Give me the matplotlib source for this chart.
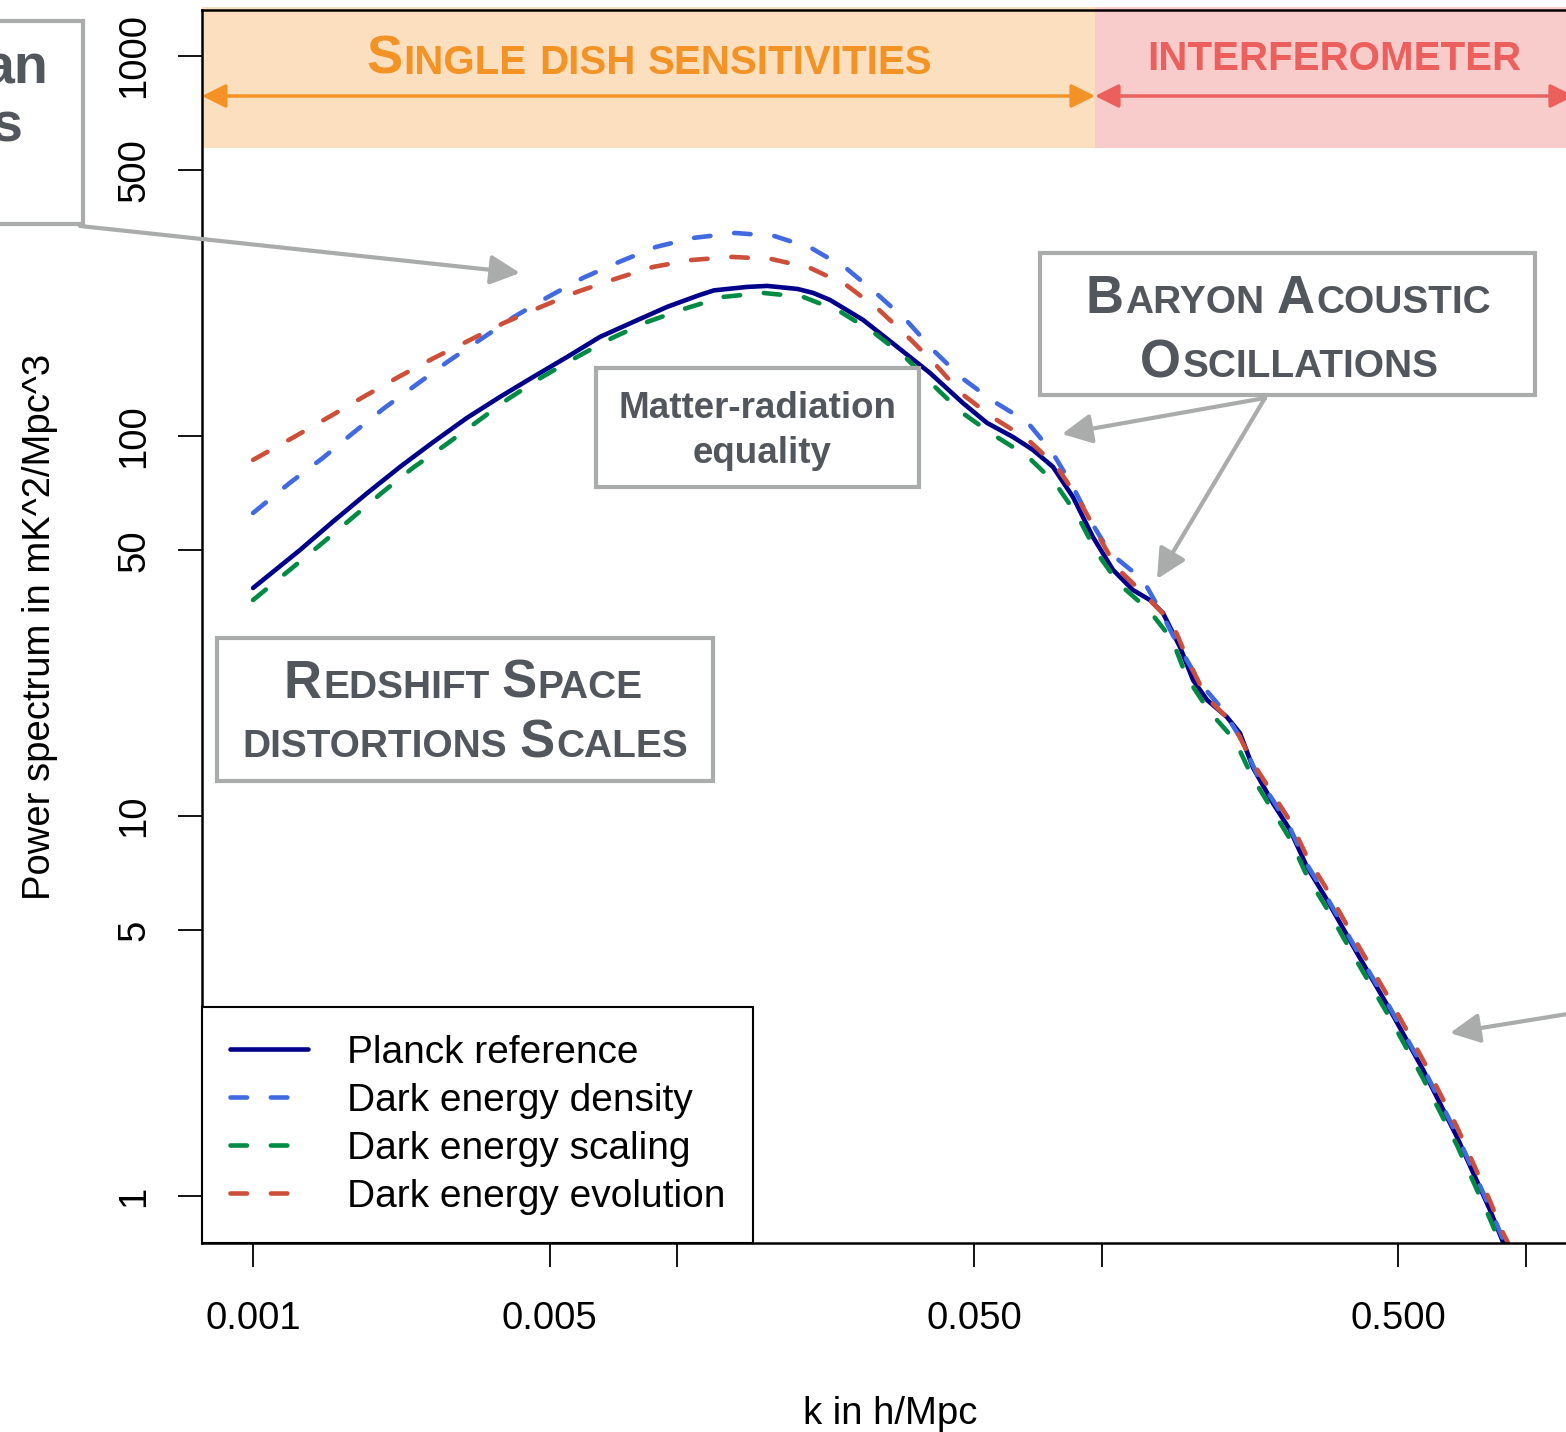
import matplotlib
matplotlib.use("Agg")
import matplotlib.pyplot as plt
from matplotlib.patches import Rectangle, FancyArrowPatch
from matplotlib.ticker import NullLocator
from matplotlib.transforms import IdentityTransform

plt.rcParams['font.family'] = ['Liberation Sans', 'DejaVu Sans']

W, H = 1566, 1432

# power spectra (k in h/Mpc, P in mK^2/Mpc^3)
k_planck = [0.001, 0.00129, 0.00154, 0.00186, 0.00222, 0.00266, 0.00319, 0.00382, 0.00457,
            0.0055, 0.00657, 0.00787, 0.00946, 0.0113, 0.0122, 0.0146, 0.0163, 0.0192, 0.0209,
            0.0229, 0.0274, 0.033, 0.0394, 0.0471, 0.0537, 0.0618, 0.0689, 0.0768, 0.0856,
            0.0954, 0.1064, 0.1186, 0.13, 0.1395, 0.1531, 0.1642, 0.1772, 0.1975, 0.212, 0.2274,
            0.2535, 0.278, 0.3049, 0.3399, 0.3999, 0.4783, 0.5721, 0.688, 0.823, 0.883, 0.95]
pk_planck = [39.8, 50.1, 59.4, 70.8, 82.9, 96.4, 111.5, 126.7, 142.9,
             161.4, 182.2, 199.5, 218.6, 235.0, 241.6, 246.7, 248.2, 243.7, 237.9,
             228.0, 202.0, 171.5, 146.5, 122.1, 108.2, 99.4, 91.9, 82.9, 69.1,
             54.2, 44.4, 39.3, 37.0, 34.2, 27.8, 22.8, 20.2, 18.2, 16.5, 13.4,
             10.8, 9.19, 7.34, 6.01, 4.36, 3.09, 2.15, 1.43, 0.919, 0.757, 0.64]

k_density = [0.001, 0.00122, 0.00146, 0.00172, 0.00204, 0.00242, 0.00287, 0.00345, 0.00412,
             0.00496, 0.00599, 0.00729, 0.00891, 0.01089, 0.01368, 0.0169, 0.02066, 0.02512,
             0.02956, 0.03477, 0.04005, 0.04688, 0.05546, 0.06673, 0.07641, 0.08515, 0.09391,
             0.1047, 0.1252, 0.1373, 0.1506, 0.1706, 0.1933, 0.212, 0.2362, 0.2535, 0.278,
             0.3049, 0.3399, 0.3999, 0.4783, 0.5721, 0.688, 0.823, 0.883, 0.95]
pk_density = [62.7, 75.2, 87.5, 101.8, 118.5, 136.2, 156.6, 180.0, 205.7,
              232.2, 260.5, 287.0, 314.4, 331.9, 342.1, 336.0, 312.5, 275.1,
              236.4, 200.8, 168.4, 142.0, 123.6, 108.9, 90.8, 74.3, 60.1,
              49.2, 41.8, 34.8, 28.5, 22.4, 19.0, 16.1, 12.4, 11.0, 9.3,
              7.45, 6.1, 4.42, 3.13, 2.18, 1.45, 0.93, 0.77, 0.65]

k_scaling = [0.001, 0.00122, 0.00144, 0.00169, 0.00201, 0.00238, 0.00284, 0.00337, 0.00399,
             0.0048, 0.0058, 0.00702, 0.00849, 0.01037, 0.01282, 0.01592, 0.01979, 0.02405,
             0.02892, 0.0344, 0.03983, 0.04662, 0.05518, 0.06673, 0.07769, 0.0875, 0.09753,
             0.1099, 0.1293, 0.1466, 0.159, 0.1791, 0.2063, 0.2262, 0.2535, 0.278, 0.3049,
             0.3399, 0.3999, 0.4783, 0.5721, 0.688, 0.823, 0.883, 0.95]
pk_scaling = [37.0, 44.4, 51.7, 60.1, 70.8, 82.4, 94.7, 108.9, 125.1,
              142.9, 161.4, 181.1, 199.5, 215.9, 232.2, 237.9, 232.2, 213.3,
              187.8, 161.4, 137.0, 115.7, 101.2, 88.6, 75.2, 62.0, 49.2,
              40.8, 34.8, 29.1, 23.1, 18.9, 15.8, 12.7, 10.3, 8.7, 6.95,
              5.7, 4.14, 2.94, 2.04, 1.36, 0.87, 0.72, 0.61]

k_evolution = [0.001, 0.00125, 0.00151, 0.00182, 0.0022, 0.00264, 0.00321, 0.0039, 0.00477,
               0.0058, 0.00713, 0.00877, 0.01083, 0.01346, 0.01663, 0.02055, 0.025, 0.02972,
               0.03477, 0.04049, 0.04688, 0.05518, 0.06673, 0.07811, 0.08797, 0.09753, 0.1081,
               0.1273, 0.1466, 0.1598, 0.1762, 0.2041, 0.2262, 0.2535, 0.278, 0.3049, 0.3399,
               0.3999, 0.4783, 0.5721, 0.688, 0.823, 0.883, 0.95]
pk_evolution = [86.5, 99.4, 112.2, 126.7, 142.9, 159.4, 177.8, 198.3, 218.6,
                239.3, 258.9, 278.5, 290.5, 295.9, 292.3, 276.8, 249.7, 215.9,
                183.3, 154.7, 129.0, 112.2, 98.2, 83.4, 68.7, 55.5, 45.2,
                37.9, 32.2, 25.7, 20.6, 17.5, 13.9, 11.4, 9.7, 7.8, 6.4,
                4.62, 3.28, 2.28, 1.52, 0.97, 0.80, 0.68]

x_ticks = [0.001, 0.005, 0.01, 0.05, 0.1, 0.5, 1.0]
x_tick_labels = ['0.001', '0.005', '', '0.050', '', '0.500', '']
y_ticks = [1, 5, 10, 50, 100, 500, 1000]
y_tick_labels = ['1', '5', '10', '50', '100', '500', '1000']

# regime split between single dish and interferometer
k_split = 0.0965

GRAY = '#a9acab'
TXT = '#52575d'
ORANGE = '#f39325'
RED_TXT = '#eb605c'

fig = plt.figure(figsize=(W / 100, H / 100), dpi=100)
ax = fig.add_axes([202 / W, 1 - 1243 / H, 1376 / W, 1233 / H])
ax.set_xscale('log')
ax.set_yscale('log')
ax.set_xlim(7.58e-4, 1.327)
ax.set_ylim(0.752, 1321)

# top bands
ax.axvspan(7.58e-4, k_split, ymin=0.888, ymax=1.0024, color='#fcdfbf', lw=0, zorder=0, clip_on=False)
ax.axvspan(k_split, 2.0, ymin=0.888, ymax=1.0024, color='#f9cccc', lw=0, zorder=0, clip_on=False)

dash = dict(dashes=(3.6, 5.2), dash_capstyle='round')
ax.plot(k_planck, pk_planck, color='#00008b', lw=3.3, label='Planck reference',
        solid_capstyle='round', solid_joinstyle='round')
ax.plot(k_density, pk_density, color='#4169e1', lw=3.3, label='Dark energy density', **dash)
ax.plot(k_scaling, pk_scaling, color='#008b45', lw=3.3, label='Dark energy scaling', **dash)
ax.plot(k_evolution, pk_evolution, color='#cd4f39', lw=3.3, label='Dark energy evolution', **dash)

ax.set_xticks(x_ticks, labels=x_tick_labels)
ax.set_yticks(y_ticks, labels=y_tick_labels, rotation=90, va='center')
ax.xaxis.set_minor_locator(NullLocator())
ax.yaxis.set_minor_locator(NullLocator())
ax.tick_params(direction='out', length=17, width=1.3, labelsize=27.5)
ax.tick_params(axis='x', pad=25)
ax.tick_params(axis='y', pad=19)
for sp in ax.spines.values():
    sp.set_linewidth(1.8)

ax.set_xlabel('k in h/Mpc', fontsize=27.5)
ax.xaxis.set_label_coords(0.5, -0.124)
ax.set_ylabel('Power spectrum in mK^2/Mpc^3', fontsize=27.5)
ax.yaxis.set_label_coords(-0.105, 0.5)

leg = ax.legend(loc='lower left', bbox_to_anchor=(0, 0), borderaxespad=0, fontsize=28,
                fancybox=False, framealpha=1, edgecolor='black', borderpad=0.72,
                labelspacing=0.31, handlelength=2.0, handletextpad=1.0)
leg.get_frame().set_linewidth(1.5)

# ---- annotations, positioned in figure pixels (top-left origin)
ident = IdentityTransform()


def box(x0, y0, x1, y1):
    fig.add_artist(Rectangle((x0, H - y1), x1 - x0, y1 - y0, transform=ident,
                             facecolor='white', edgecolor=GRAY, lw=3, zorder=4))


def arrow(x0, y0, x1, y1, style, color, lw, scale=20):
    fig.add_artist(FancyArrowPatch((x0, H - y0), (x1, H - y1), transform=ident,
                                   arrowstyle=style, mutation_scale=scale, color=color,
                                   lw=lw, shrinkA=0, shrinkB=0, zorder=5))


def caps_text(line, xc, yb, big, small, color):
    r = fig.canvas.get_renderer()
    pieces = []
    for i, word in enumerate(line.split()):
        if i:
            pieces.append((None, 0.27 * small * 100 / 72))
        if word[0].isupper():
            pieces.append((word[0], big))
            if len(word) > 1:
                pieces.append((word[1:].upper(), small))
        else:
            pieces.append((word.upper(), small))
    texts, widths = [], []
    for s, size in pieces:
        if s is None:
            texts.append(None)
            widths.append(size)
            continue
        t = fig.text(0, H - yb, s, fontsize=size, fontweight='bold', color=color,
                     va='baseline', ha='left', transform=ident, zorder=6)
        texts.append(t)
        widths.append(t.get_window_extent(r).width + 1.5)
    x = xc - sum(widths) / 2
    for t, w in zip(texts, widths):
        if t is not None:
            t.set_x(x)
        x += w


# band labels and arrows
caps_text('Single dish sensitivities', 650, 74, 39, 29, ORANGE)
caps_text('interferometer', 1335, 70, 39, 29, RED_TXT)
arrow(202, 96, 1095, 96, '<|-|>,head_length=0.72,head_width=0.36', ORANGE, 2.5)
arrow(1095, 96, 1574, 96, '<|-|>,head_length=0.72,head_width=0.36', RED_TXT, 2.5)

# boxes (the left one is cropped by the figure edge, as in the source)
box(-10, 21, 83, 224)
fig.text(48, H - 83, 'an', fontsize=40, fontweight='bold', color=TXT, ha='right',
         va='baseline', transform=ident, zorder=6)
fig.text(22, H - 142, 's', fontsize=40, fontweight='bold', color=TXT, ha='right',
         va='baseline', transform=ident, zorder=6)

box(596, 368, 919, 487)
fig.text(757, H - 418, 'Matter-radiation', fontsize=26.5, fontweight='bold', color=TXT,
         ha='center', va='baseline', transform=ident, zorder=6)
fig.text(762, H - 463, 'equality', fontsize=26.5, fontweight='bold', color=TXT,
         ha='center', va='baseline', transform=ident, zorder=6)

box(1040, 253, 1535, 395)
caps_text('Baryon Acoustic', 1289, 313, 38, 28, TXT)
caps_text('Oscillations', 1290, 377, 38, 28, TXT)

box(217, 638, 713, 781)
caps_text('Redshift Space', 464, 698, 38, 28, TXT)
caps_text('distortions Scales', 466, 757, 38, 28, TXT)

# gray pointers
gstyle = '-|>,head_length=0.9,head_width=0.45'
arrow(80, 226, 520, 273, gstyle, GRAY, 3)
arrow(1265, 398, 1062, 434, gstyle, GRAY, 3)
arrow(1265, 398, 1157, 579, gstyle, GRAY, 3)
arrow(1580, 1012, 1450, 1033, gstyle, GRAY, 3)

fig.savefig('out.png', dpi=100)
